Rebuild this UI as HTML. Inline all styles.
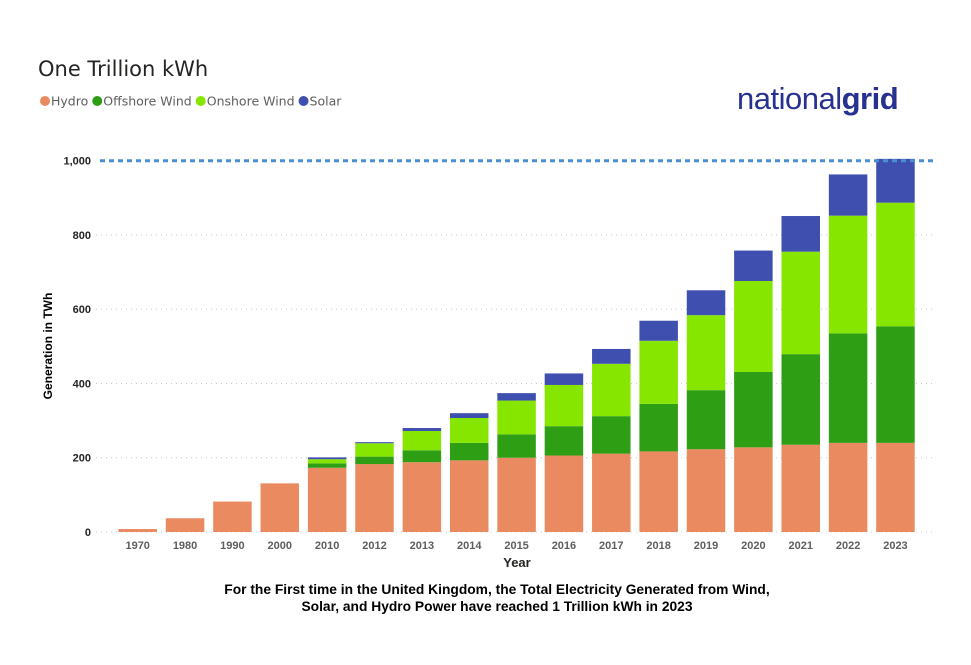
<!DOCTYPE html>
<html><head><meta charset="utf-8"><style>
body{margin:0;background:#fff;width:971px;height:660px;overflow:hidden;font-family:"Liberation Sans",sans-serif}
</style></head><body>
<svg width="971" height="660" xmlns="http://www.w3.org/2000/svg">
<text x="38" y="76" font-size="21" fill="#252423" font-family="DejaVu Sans, sans-serif">One Trillion kWh</text>
<g id="legend" font-size="12.5" fill="#605e5c" font-family="DejaVu Sans, sans-serif"></g>
<text x="737" y="109" font-size="31" fill="#27318f" letter-spacing="-0.5">national<tspan font-weight="bold">grid</tspan></text>
<g id="grid"></g>
<g id="bars"></g>
<g id="axes"></g>
<text x="52" y="346" font-size="12" font-weight="bold" fill="#000" text-anchor="middle" transform="rotate(-90 52 346)">Generation in TWh</text>
<text x="517" y="567" font-size="13" font-weight="bold" fill="#252423" text-anchor="middle">Year</text>
<text x="497" y="594" font-size="13.8" font-weight="bold" fill="#000" text-anchor="middle">For the First time in the United Kingdom, the Total Electricity Generated from Wind,</text>
<text x="497" y="611" font-size="13.8" font-weight="bold" fill="#000" text-anchor="middle">Solar, and Hydro Power have reached 1 Trillion kWh in 2023</text>
</svg>
<script>
const categories=["1970","1980","1990","2000","2010","2012","2013","2014","2015","2016","2017","2018","2019","2020","2021","2022","2023"];
const hydro=[8,37,82,131,173,183,188,193,200,206,211,217,223,228,235,240,240];
const offshore=[0,0,0,0,12,20,32,47,63,79,101,128,159,203,244,295,314];
const onshore=[0,0,0,0,11,36,52,67,91,111,141,170,202,245,276,317,333];
const solar=[0,0,0,0,5,3,8,13,20,31,40,54,67,82,96,111,118];
const yTicks=[0,200,400,600,800,1000];
const yTickLabels=["0","200","400","600","800","1,000"];
const seriesNames=["Hydro","Offshore Wind","Onshore Wind","Solar"];
const colors=["#ea8a60","#2e9e14","#86e600","#3f4fb0"];
const NS="http://www.w3.org/2000/svg";
const y0=532,pxPer=0.3713,x0=137.7,step=47.36,bw=38.5;
const yS=v=>y0-v*pxPer, xS=i=>x0+i*step;
function mk(t,a,p){const e=document.createElementNS(NS,t);for(const k in a)e.setAttribute(k,a[k]);p.appendChild(e);return e;}
const g=document.getElementById('grid'),b=document.getElementById('bars'),ax=document.getElementById('axes'),lg=document.getElementById('legend');
yTicks.forEach((v,i)=>{
 if(v<1000){const l=mk('line',{x1:96,x2:935,y1:yS(v),y2:yS(v),stroke:'#c8c8c8','stroke-dasharray':'1 4'},g);
 
 }
 const t=mk('text',{x:91,y:yS(v)+4,'text-anchor':'end','font-size':11,'font-weight':'bold',fill:'#252423'},ax);t.textContent=yTickLabels[i];
 
 
});
const series=[hydro,offshore,onshore,solar];
categories.forEach((c,i)=>{
 let cum=0;
 series.forEach((s,j)=>{
  if(s[i]<=0)return;
  const r=mk('rect',{x:xS(i)-bw/2,y:yS(cum+s[i]),width:bw,height:s[i]*pxPer,fill:colors[j]},b);
  
  
  cum+=s[i];
 });
 const t=mk('text',{x:xS(i),y:549,'text-anchor':'middle','font-size':11,'font-weight':'bold',fill:'#605e5c'},ax);t.textContent=c;
 
 
});
const ref=mk('line',{x1:100,x2:935,y1:yS(1000),y2:yS(1000),stroke:'#4a90d0','stroke-width':3,'stroke-dasharray':'5 4'},b);


let lx=40;
seriesNames.forEach((n,j)=>{
 const c=mk('circle',{cx:lx+5,cy:101,r:5,fill:colors[j]},lg);
 
 
 const t=mk('text',{x:lx+11,y:105.5},lg);t.textContent=n;
 
 
 lx+=11+t.getComputedTextLength()+4;
});
</script>
</body></html>
